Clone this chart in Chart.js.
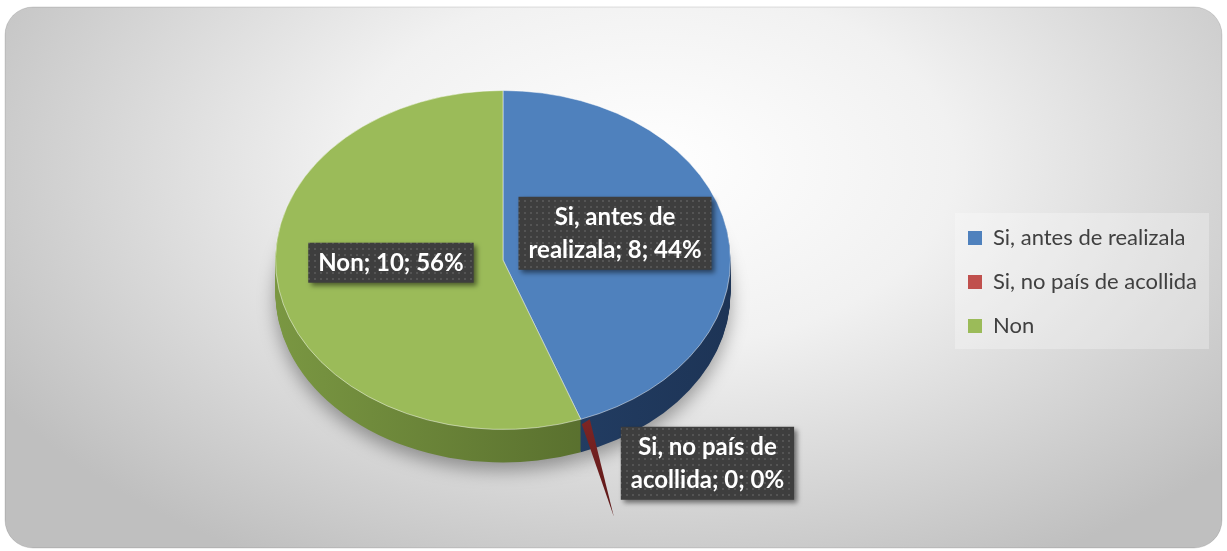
<!DOCTYPE html>
<html>
<head>
<meta charset="utf-8">
<script src="https://cdn.jsdelivr.net/npm/chart.js@4/dist/chart.umd.min.js"></script>
<style>
  html, body { margin: 0; padding: 0; background: #fff; }
  canvas { display: block; }
</style>
</head>
<body>
<canvas id="chart" width="1227" height="551"></canvas>
<script>
/* ==========================
   DATA
========================== */
const categories = ["Si, antes de realizala", "Si, no país de acollida", "Non"];
const values = [8, 0, 10];

/* ==========================
   STYLE
========================== */
const sliceColors = ["#4F81BD", "#C0504D", "#9BBB59"];
const sideColors = [["#2b4c78", "#1d3456"], ["#7a2726", "#561818"], ["#7a9742", "#4a5e25"]];
const TILT = 0.745;      // vertical squash of the pie face
const DEPTH = 33;        // thickness of the 3d side
const LABEL_FONT = "bold 24px Lato";
const LABEL_LINE = 33;

function roundRect(ctx, x, y, w, h, r){
    ctx.beginPath();
    ctx.moveTo(x + r, y);
    ctx.arcTo(x + w, y, x + w, y + h, r);
    ctx.arcTo(x + w, y + h, x, y + h, r);
    ctx.arcTo(x, y + h, x, y, r);
    ctx.arcTo(x, y, x + w, y, r);
    ctx.closePath();
}

function drawWith(arc, ctx, opts){
    const saved = arc.options;
    arc.options = Object.assign({}, saved, opts);
    arc.draw(ctx);
    arc.options = saved;
}

function squash(ctx, cx, cy, dy){
    ctx.translate(0, dy);
    ctx.translate(cx, cy);
    ctx.scale(1, TILT);
    ctx.translate(-cx, -cy);
}

// dotted dark fill used behind the data labels
const patCanvas = document.createElement("canvas");
patCanvas.width = 6; patCanvas.height = 6;
const pctx = patCanvas.getContext("2d");
pctx.fillStyle = "#3e3e3e"; pctx.fillRect(0, 0, 6, 6);
pctx.fillStyle = "#545454"; pctx.fillRect(2, 2, 2, 2);

/* ==========================
   PLUGINS
========================== */
const background = {
    id: "background",
    beforeDraw(chart){
        const ctx = chart.ctx;
        const w = chart.width, h = chart.height;
        ctx.save();
        roundRect(ctx, 5, 7, w - 10, h - 10, 28);
        ctx.save();
        ctx.translate(w * 0.53, h * 0.3);
        ctx.scale(1, 0.6);
        const g = ctx.createRadialGradient(0, 0, 0, 0, 0, 760);
        g.addColorStop(0, "#ffffff");
        g.addColorStop(0.4, "#f1f1f1");
        g.addColorStop(1, "#bfbfbf");
        ctx.fillStyle = g;
        ctx.fill();
        ctx.restore();
        ctx.strokeStyle = "rgba(0,0,0,0.12)";
        ctx.lineWidth = 1;
        ctx.stroke();

        // legend panel
        const hb = chart.legend.legendHitBoxes;
        if(hb && hb.length){
            const left = Math.min(...hb.map(b => b.left)) - 13;
            const right = Math.max(...hb.map(b => b.left + b.width)) + 12;
            const top = hb[0].top - 14;
            const bottom = hb[hb.length - 1].top + hb[hb.length - 1].height + 12;
            ctx.fillStyle = "rgba(255,255,255,0.28)";
            ctx.fillRect(left, top, right - left, bottom - top);
        }
        ctx.restore();
    }
};

const pie3d = {
    id: "pie3d",
    beforeDatasetDraw(chart, args){
        const ctx = chart.ctx;
        const arcs = args.meta.data;
        const cx = arcs[0].x, cy = arcs[0].y, r = arcs[0].outerRadius;

        const sideFill = sideColors.map(c => {
            const g = ctx.createLinearGradient(cx - r, 0, cx + r, 0);
            g.addColorStop(0, c[0]);
            g.addColorStop(1, c[1]);
            return g;
        });

        // side wall: the slices stacked downwards
        for(let k = DEPTH; k >= 1; k--){
            ctx.save();
            if(k === DEPTH){
                ctx.shadowColor = "rgba(0,0,0,0.35)";
                ctx.shadowBlur = 18;
                ctx.shadowOffsetY = 8;
            }
            squash(ctx, cx, cy, k);
            arcs.forEach((arc, i) => drawWith(arc, ctx, {backgroundColor: sideFill[i], borderWidth: 0}));
            ctx.restore();
        }

        // zero slice shows as a thin cut face
        arcs.forEach((arc, i) => {
            if(arc.circumference > 0) return;
            const a = arc.startAngle;
            const ex = cx + Math.cos(a) * r, ey = cy + Math.sin(a) * r * TILT;
            const g = ctx.createLinearGradient(ex, ey, ex, ey + DEPTH * 3);
            g.addColorStop(0, "#7d2524");
            g.addColorStop(1, "#5a1616");
            ctx.save();
            ctx.fillStyle = g;
            ctx.beginPath();
            ctx.moveTo(ex + 1, ey + 5);
            ctx.lineTo(ex + 9, ey);
            ctx.lineTo(ex + DEPTH, ey + DEPTH * 2.95);
            ctx.closePath();
            ctx.fill();
            ctx.restore();
        });

        // top face is drawn by chart.js itself, squashed
        ctx.save();
        squash(ctx, cx, cy, 0);
    },
    afterDatasetDraw(chart){
        chart.ctx.restore();
    }
};

function wrap(ctx, text, maxWidth){
    const words = text.split(" ");
    const lines = [];
    let line = "";
    words.forEach(w => {
        const test = line ? line + " " + w : w;
        if(line && ctx.measureText(test).width > maxWidth){
            lines.push(line);
            line = w;
        } else line = test;
    });
    lines.push(line);
    return lines;
}

const dataLabels = {
    id: "dataLabels",
    afterDatasetsDraw(chart){
        const ctx = chart.ctx;
        const arcs = chart.getDatasetMeta(0).data;
        const total = values.reduce((a, b) => a + b, 0);
        const pattern = ctx.createPattern(patCanvas, "repeat");
        ctx.save();
        ctx.font = LABEL_FONT;
        arcs.forEach((arc, i) => {
            const pct = Math.round(values[i] / total * 100);
            const lines = wrap(ctx, `${categories[i]}; ${values[i]}; ${pct}%`, 195);
            const w = Math.max(...lines.map(l => ctx.measureText(l).width)) + 20;
            const h = lines.length * LABEL_LINE + 7;
            const r = arc.outerRadius;
            let x, y;
            if(arc.circumference > 0){
                const mid = (arc.startAngle + arc.endAngle) / 2;
                x = arc.x + Math.cos(mid) * r * 0.5 - w / 2;
                y = arc.y + Math.sin(mid) * r * 0.5 * TILT - 12 - h / 2;
            } else {
                const a = arc.startAngle;
                x = arc.x + Math.cos(a) * r + 40;
                y = arc.y + Math.sin(a) * r * TILT + 44 - h / 2;
            }
            ctx.save();
            ctx.shadowColor = "rgba(0,0,0,0.5)";
            ctx.shadowBlur = 5;
            ctx.shadowOffsetX = 3;
            ctx.shadowOffsetY = 3;
            ctx.fillStyle = pattern;
            ctx.fillRect(x, y, w, h);
            ctx.restore();
            ctx.fillStyle = "#ffffff";
            ctx.textAlign = "center";
            ctx.textBaseline = "middle";
            lines.forEach((l, j) => ctx.fillText(l, x + w / 2, y + 4 + LABEL_LINE * (j + 0.5)));
        });
        ctx.restore();
    }
};

/* ==========================
   CHART
========================== */
const ctx = document.getElementById("chart").getContext("2d");
new Chart(ctx, {
    type: "pie",
    data: {
        labels: categories,
        datasets: [{
            data: values,
            backgroundColor: sliceColors,
            borderColor: "rgba(255,255,255,0.55)",
            borderWidth: 1,
            clip: false
        }]
    },
    options: {
        responsive: false,
        animation: false,
        devicePixelRatio: 1,
        layout: { padding: { left: 60, right: 20, top: 32, bottom: 63 } },
        plugins: {
            tooltip: { enabled: false },
            legend: {
                position: "right",
                title: { display: true, text: "", padding: 0, font: { size: 20, lineHeight: 2.2 } },
                labels: {
                    boxWidth: 14,
                    boxHeight: 14,
                    padding: 22,
                    color: "#404040",
                    font: { family: "Lato", size: 22 },
                    generateLabels(chart){
                        const items = Chart.overrides.pie.plugins.legend.labels.generateLabels(chart);
                        items.forEach(it => { it.lineWidth = 0; });
                        return items;
                    }
                }
            }
        }
    },
    plugins: [background, pie3d, dataLabels]
});
</script>
</body>
</html>
